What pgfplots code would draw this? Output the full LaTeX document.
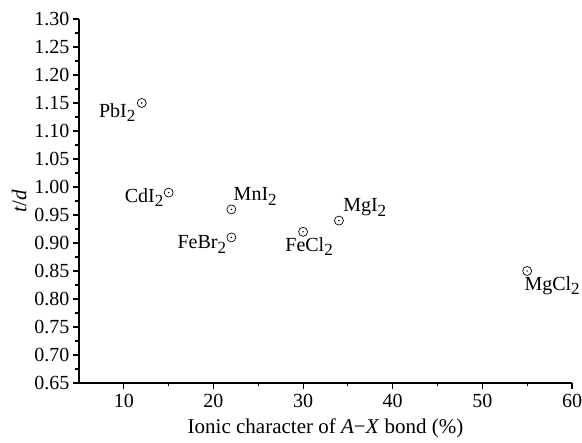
\documentclass[border=0pt]{standalone}
\usepackage{fontspec}
\setmainfont{Liberation Serif}
\usepackage{pgfplots}
\pgfplotsset{compat=1.18}

\pgfdeclareplotmark{odot}{%
  \pgfpathcircle{\pgfpointorigin}{\pgfplotmarksize}\pgfusepathqstroke
  \pgfpathcircle{\pgfpointorigin}{0.8pt}\pgfusepathqfill}

\newcommand{\sub}[1]{\raisebox{-0.45ex}{\fontsize{17}{17}\selectfont #1}}

\pgfplotsset{
  pt/.style n args={3}{only marks, mark=odot, mark size=4.5pt, line width=0.7pt,
    point meta=explicit symbolic,
    nodes near coords={\pgfplotspointmeta\sub{2}},
    every node near coord/.append style={font=\fontsize{20}{24}\selectfont,
      anchor=#1, xshift=#2, yshift=#3, inner sep=1pt}},
}

\begin{document}
\begin{tikzpicture}
\begin{axis}[
  scale only axis,
  width=493pt, height=364pt,
  xmin=5, xmax=60, ymin=0.65, ymax=1.30,
  axis x line*=bottom, axis y line*=left,
  axis line style={line width=1.3pt},
  tick align=outside,
  tick style={black, line width=1.1pt},
  major tick length=6pt, minor tick length=3.5pt,
  xtick={10,20,...,60}, minor xtick={15,25,...,55},
  ytick={0.65,0.70,...,1.31}, minor y tick num=1,
  yticklabel style={/pgf/number format/.cd, fixed, fixed zerofill, precision=2},
  /pgf/number format/assume math mode=true,
  tick label style={font=\fontsize{20}{24}\selectfont},
  xticklabel style={yshift=-2pt},
  label style={font=\fontsize{21}{25}\selectfont},
  xlabel={Ionic character of \textit{A}−\textit{X} bond (\%)},
  ylabel={\textit{t}/\textit{d}},
  xlabel style={yshift=-4pt},
  ylabel style={yshift=1pt},
  clip=false,
]
\coordinate (sw) at (rel axis cs:0,0);
\coordinate (ne) at (rel axis cs:1,1);
\addplot[pt={east}{-5pt}{-10pt}]      coordinates {(12,1.15)[PbI]};
\addplot[pt={east}{-4pt}{-5pt}]       coordinates {(15,0.99)[CdI]};
\addplot[pt={south west}{1pt}{3pt}]   coordinates {(22,0.96)[MnI]};
\addplot[pt={east}{-4pt}{-7pt}]       coordinates {(22,0.91)[FeBr]};
\addplot[pt={north}{6pt}{-4pt}]       coordinates {(30,0.92)[FeCl]};
\addplot[pt={south west}{3pt}{3pt}]   coordinates {(34,0.94)[MgI]};
\addplot[pt={north west}{-4pt}{-4pt}] coordinates {(55,0.85)[MgCl]};
\end{axis}
\pgfresetboundingbox
\path[use as bounding box] ([xshift=-79pt,yshift=-60pt]sw) rectangle ([xshift=10pt,yshift=19pt]ne);
\end{tikzpicture}
\end{document}
